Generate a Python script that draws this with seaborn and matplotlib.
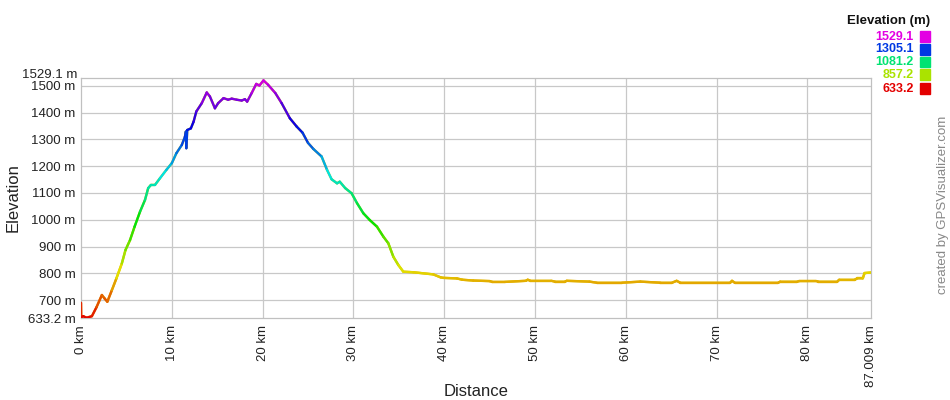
import numpy as np
import pandas as pd
import matplotlib
matplotlib.use("Agg")
import matplotlib.pyplot as plt
import matplotlib.transforms as mtransforms
import seaborn as sns
from matplotlib.collections import LineCollection
import colorsys

# ---- data ----
distance_km = [0.0, 0.02, 0.25, 0.6, 1.2, 1.7, 2.3, 2.6, 2.9, 3.4, 3.9, 4.5, 4.9, 5.4, 5.9,
               6.5, 7.05, 7.4, 7.7, 8.15, 8.7, 9.4, 10.0, 10.5, 11.1, 11.45, 11.55, 11.6,
               11.7, 12.1, 12.4, 12.7, 13.3, 13.85, 14.2, 14.75, 15.1, 15.7, 16.2, 16.6,
               17.15, 17.7, 18.05, 18.3, 18.8, 19.3, 19.65, 20.1, 20.6, 21.4, 22.1, 23.0,
               23.75, 24.4, 25.0, 25.6, 26.5, 27.1, 27.6, 28.2, 28.5, 29.1, 29.8, 30.4,
               31.1, 31.8, 32.6, 33.3, 33.85, 34.4, 34.95, 35.5, 36.6, 38.8, 39.6, 39.9,
               41.4, 42.0, 43.2, 45.0, 45.3, 46.7, 49.0, 49.2, 49.5, 51.8, 52.2, 53.3,
               53.5, 56.0, 56.8, 59.6, 61.6, 63.8, 65.1, 65.6, 66.0, 71.5, 71.7, 72.0,
               76.8, 77.0, 78.9, 79.1, 81.0, 81.2, 83.3, 83.5, 85.2, 85.5, 86.1, 86.3,
               87.009]
elevation_m = [690, 636, 640, 634, 640, 673, 719, 706, 694, 737, 781, 837, 887, 924, 974,
               1030, 1074, 1118, 1130, 1130, 1155, 1186, 1211, 1248, 1279, 1310, 1329, 1267,
               1335, 1341, 1366, 1404, 1435, 1475, 1460, 1416, 1435, 1454, 1448, 1452,
               1448, 1445, 1450, 1441, 1473, 1507, 1501, 1520, 1504, 1473, 1435, 1379,
               1348, 1325, 1287, 1264, 1236, 1186, 1151, 1136, 1142, 1118, 1099, 1062,
               1024, 999, 974, 937, 912, 862, 831, 806, 804, 796, 785, 783,
               781, 776, 773, 771, 768, 768, 772, 776, 772, 772, 769, 769,
               772, 769, 765, 765, 769, 765, 765, 772, 765, 765, 772, 765,
               765, 769, 769, 771, 771, 769, 769, 776, 776, 781, 781, 801,
               803]

emin, emax = 633.2, 1529.1
legend_values = [1529.1, 1305.1, 1081.2, 857.2, 633.2]
y_ticks = [700, 800, 900, 1000, 1100, 1200, 1300, 1400, 1500]
x_ticks = [0, 10, 20, 30, 40, 50, 60, 70, 80]
x_max = 87.009


def elev_color(e):
    h = (300.0 / 360.0) * (e - emin) / (emax - emin)
    h = min(max(h, 0), 300 / 360)
    return colorsys.hsv_to_rgb(h, 1.0, 0.89)


df = pd.DataFrame({"Distance": distance_km, "Elevation": elevation_m})

sns.set_style("white")
plt.rcParams["font.family"] = ["Liberation Sans", "DejaVu Sans"]

fig = plt.figure(figsize=(9.5, 4.0), dpi=100)
ax = fig.add_axes([81 / 950, 1 - 318 / 400, 790 / 950, 240 / 400])

sns.lineplot(data=df, x="Distance", y="Elevation", ax=ax, color=elev_color(780),
             linewidth=1.7, sort=False, estimator=None)

pts = np.column_stack([df["Distance"].values, df["Elevation"].values])
segs = np.stack([pts[:-1], pts[1:]], axis=1)
cols = [elev_color((a + b) / 2) for a, b in zip(elevation_m[:-1], elevation_m[1:])]
lc = LineCollection(segs, colors=cols, linewidths=1.7, capstyle="round", joinstyle="round", zorder=3)
ax.add_collection(lc)

ax.set_xlim(0, x_max)
ax.set_ylim(emin, emax)

# grid
for yv in y_ticks:
    ax.axhline(yv, color="#c8c8c8", lw=0.9, zorder=1)
for xv in x_ticks[1:]:
    ax.axvline(xv, color="#c8c8c8", lw=0.9, zorder=1)
for s in ax.spines.values():
    s.set_color("#c0c0c0")
    s.set_linewidth(0.9)

yt = [emin] + y_ticks
ax.set_yticks(yt)
ax.set_yticklabels([f"{v:g} m" if v != emin else f"{v:.1f} m" for v in yt],
                   fontsize=9.5, color="#222222")
# top extreme label, nudged up slightly as in the reference
top_tr = mtransforms.blended_transform_factory(ax.transAxes, ax.transData) + \
    mtransforms.ScaledTranslation(-4 / 100, 3.5 / 100, fig.dpi_scale_trans)
ax.text(0, emax, f"{emax:.1f} m", transform=top_tr, ha="right", va="center",
        fontsize=9.5, color="#222222")

xt = x_ticks + [x_max]
ax.set_xticks(xt)
ax.set_xticklabels([f"{v:g} km" for v in x_ticks] + [f"{x_max:.3f} km"],
                   rotation=90, fontsize=9.5, color="#222222", va="top")
ax.tick_params(axis="both", length=0, pad=4)
ax.tick_params(axis="x", pad=5)

ax.set_xlabel("Distance", fontsize=12, color="#222222")
ax.set_ylabel("Elevation", fontsize=12, color="#222222")
ax.xaxis.label.set_va("center")
ax.yaxis.label.set_va("center")
ax.xaxis.set_label_coords(0.5, (318 - 392) / 240)
ax.yaxis.set_label_coords((13 - 81) / 790, 0.5)

# legend
fig.text(930 / 950, 1 - 21 / 400, "Elevation (m)", ha="right", va="center",
         fontsize=9.5, fontweight="bold", color="#111111")
row_y = [36.5, 49.5, 62, 74.5, 88.5]
for v, yy in zip(legend_values, row_y):
    c = elev_color(v)
    fig.text(914 / 950, 1 - yy / 400, f"{v:.1f}", ha="right", va="center",
             fontsize=9, fontweight="bold", color=c)
    fig.patches.append(plt.Rectangle((920 / 950, 1 - (yy + 5) / 400), 10 / 950, 10 / 400,
                                     transform=fig.transFigure, color=c, figure=fig))

fig.text(943 / 950, 1 - 205 / 400, "created by GPSVisualizer.com", rotation=90,
         ha="center", va="center", fontsize=9.5, color="#888888")

fig.savefig("out.png", dpi=100)
